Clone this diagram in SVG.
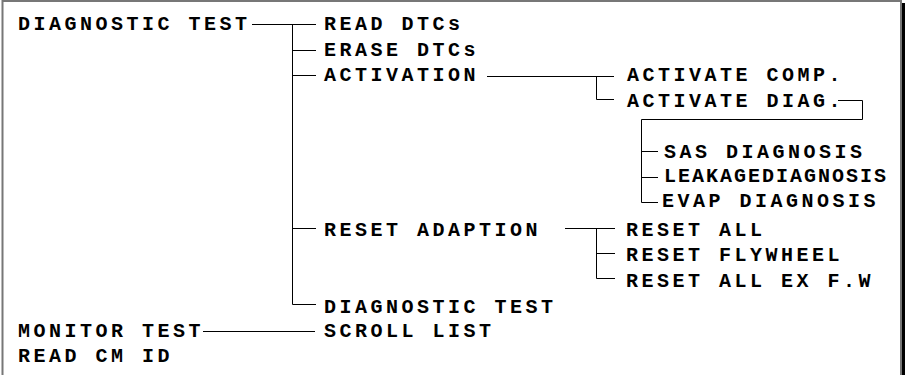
<svg xmlns="http://www.w3.org/2000/svg" width="905" height="375" viewBox="0 0 905 375">
<style>
.t{font-family:"Liberation Mono","Courier New",monospace;font-weight:bold;font-size:20px;letter-spacing:3.5px;fill:#000}
.c{fill:none;stroke:#000;stroke-width:1}
</style>
<rect x="0" y="0" width="905" height="375" fill="#fff"/>
<rect x="2.5" y="1" width="898.5" height="380" fill="none" stroke="#777" stroke-width="2"/>
<rect x="902" y="3" width="3" height="372" fill="#000"/>
<g id="connectors" class="c">
<path d="M252 24.5H316M292.5 24.5V304.5H316M292.5 50.5H316M292.5 75.5H316M292.5 228.5H316"/>
<path d="M487 76.5H614M596.5 76.5V99.5H614"/>
<path d="M838 100.5H862.5V119.5H641.5V202.5H658M641.5 151.5H658M641.5 177.5H658"/>
<path d="M565 228.5H615M596.5 228.5V278.5H615M596.5 253.5H615"/>
<path d="M203 331.5H315"/>
</g>
<g id="n-diagnostic-test"><text class="t" x="18" y="30">DIAGNOSTIC TEST</text></g>
<g id="n-read-dtcs"><text class="t" x="324" y="30">READ DTCs</text></g>
<g id="n-erase-dtcs"><text class="t" x="324" y="56">ERASE DTCs</text></g>
<g id="n-activation"><text class="t" x="324" y="81">ACTIVATION</text></g>
<g id="n-activate-comp"><text class="t" x="627" y="81">ACTIVATE COMP.</text></g>
<g id="n-activate-diag"><text class="t" x="627" y="107">ACTIVATE DIAG.</text></g>
<g id="n-sas-diagnosis"><text class="t" x="664" y="158">SAS DIAGNOSIS</text></g>
<g id="n-leakage-diagnosis"><text class="t" x="664" y="182" style="letter-spacing:2px">LEAKAGEDIAGNOSIS</text></g>
<g id="n-evap-diagnosis"><text class="t" x="662" y="207">EVAP DIAGNOSIS</text></g>
<g id="n-reset-adaption"><text class="t" x="324" y="236">RESET ADAPTION</text></g>
<g id="n-reset-all"><text class="t" x="626" y="236">RESET ALL</text></g>
<g id="n-reset-flywheel"><text class="t" x="626" y="261">RESET FLYWHEEL</text></g>
<g id="n-reset-all-ex"><text class="t" x="626" y="287">RESET ALL EX F.W</text></g>
<g id="n-diagnostic-test-2"><text class="t" x="324" y="313">DIAGNOSTIC TEST</text></g>
<g id="n-monitor-test"><text class="t" x="18" y="337">MONITOR TEST</text></g>
<g id="n-scroll-list"><text class="t" x="324" y="337">SCROLL LIST</text></g>
<g id="n-read-cm-id"><text class="t" x="18" y="362">READ CM ID</text></g>
</svg>
